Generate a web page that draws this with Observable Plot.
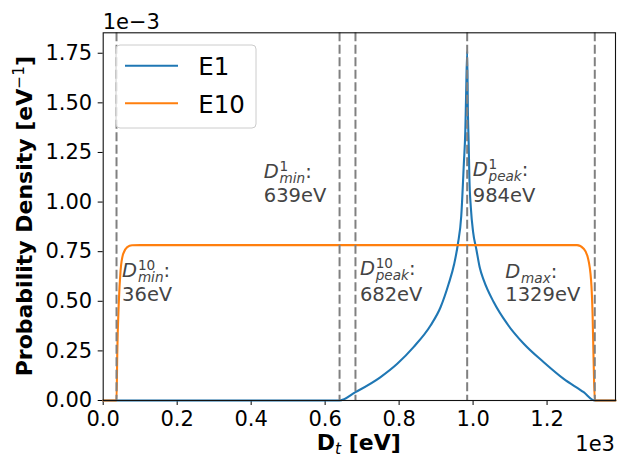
<!DOCTYPE html>
<html><head><meta charset="utf-8">
<script src="https://cdn.jsdelivr.net/npm/d3@7"></script>
<script src="https://cdn.jsdelivr.net/npm/@observablehq/plot@0.6"></script>
<style>html,body{margin:0;padding:0;background:#fff;} svg{display:block}</style>
</head><body>
<script>
// E1 distribution (x in eV, density in 1e-3 per eV)
const e1X = [0, 639, 682, 749, 795, 839, 885, 912, 934, 949, 959, 968, 975, 979, 981, 984, 986, 988, 990, 994, 1000, 1009, 1018, 1029, 1056, 1092, 1137, 1191, 1245, 1299, 1329, 1385];
const e1Y = [0, 0, 0.042, 0.117, 0.185, 0.269, 0.378, 0.470, 0.588, 0.689, 0.790, 0.93, 1.193, 1.36, 1.529, 1.760, 1.45, 1.30, 1.12, 0.97, 0.85, 0.76, 0.67, 0.605, 0.495, 0.387, 0.286, 0.193, 0.109, 0.042, 0, 0];
// E10 distribution
const e10X = [0, 36, 38, 42, 47, 54, 65, 78, 100, 400, 800, 1281, 1299, 1310, 1319, 1323, 1326, 1329, 1385];
const e10Y = [0, 0, 0.235, 0.487, 0.655, 0.739, 0.773, 0.782, 0.783, 0.783, 0.783, 0.783, 0.765, 0.722, 0.605, 0.437, 0.186, 0, 0];

const seriesNames = ["E1", "E10"];
const seriesColors = ["#1f77b4", "#ff7f0e"];

// marker lines and annotations
const markerValues = [36, 639, 682, 984, 1329];
const markerSup = ["10", "1", "10", "1", ""];
const markerSub = ["min", "min", "peak", "peak", "max"];
const labelX = [51, 434, 694, 999, 1087];
const labelY = [0.5, 1.0, 0.5, 1.0, 0.5];

const xTicks = [0, 200, 400, 600, 800, 1000, 1200];
const yTicks = [0, 0.25, 0.5, 0.75, 1.0, 1.25, 1.5, 1.75];
const xDomain = [0, 1385];
const yDomain = [0, 1.853];

const e1 = e1X.map((x, i) => ({x, y: e1Y[i]}));
const e10 = e10X.map((x, i) => ({x, y: e10Y[i]}));
const ann = markerValues.map((v, i) => ({v, sup: markerSup[i], sub: markerSub[i], x: labelX[i], y: labelY[i]}));

const annColor = "#444";
const annSize = 19.5;
const dyFor = a => a.sub === "peak" ? -26.5 : (a.sup ? -24.5 : -23);
const groups = d3.groups(ann, dyFor);

const W = 619, H = 458;
const mL = 102.7, mR = 4, mT = 32.3, mB = 58;

const svg = Plot.plot({
  width: W, height: H,
  marginLeft: mL, marginRight: mR, marginTop: mT, marginBottom: mB,
  style: {fontFamily: "DejaVu Sans", fontSize: "21px", background: "white", color: "black"},
  x: {domain: xDomain, ticks: xTicks, tickFormat: d => (d / 1000).toFixed(1), tickSize: 5, tickPadding: 6, label: null},
  y: {domain: yDomain, ticks: yTicks, tickFormat: d => d.toFixed(2), tickSize: 5, tickPadding: 6, label: null},
  marks: [
    Plot.line(e1, {x: "x", y: "y", stroke: seriesColors[0], strokeWidth: 2.1, curve: "monotone-x"}),
    Plot.line(e10, {x: "x", y: "y", stroke: seriesColors[1], strokeWidth: 2.1, curve: "monotone-x"}),
    Plot.ruleX(markerValues, {stroke: "#808080", strokeWidth: 2, strokeDasharray: "9,3.5"}),
    Plot.text(ann, {x: "x", y: "y", text: d => `${d.v}eV`, textAnchor: "start", lineAnchor: "bottom", fontSize: annSize, fill: annColor}),
    ...groups.map(([dy, items]) => Plot.text(items, {x: "x", y: "y", text: d => `D|${d.sup}|${d.sub}`, dy, textAnchor: "start", lineAnchor: "bottom", fontSize: annSize, fill: annColor})),
    Plot.frame({stroke: "#111", strokeWidth: 1.1})
  ]
});
document.body.appendChild(svg);

const s = d3.select(svg);
// tick label size: any text that is a plain tick number
s.selectAll("text").each(function() {
  if (/^\d\.\d+$/.test(this.textContent.trim())) {
    this.style.fontSize = "21px";
    this.setAttribute("font-size", "21");
    this.style.fontFamily = "DejaVu Sans";
  }
});

// rebuild math-like labels
s.selectAll("text").each(function() {
  const t = this.textContent;
  if (!t.includes("|")) return;
  const [, sup, sub] = t.split("|");
  const sel = d3.select(this);
  sel.text(null);
  sel.append("tspan").attr("font-style", "italic").text("D");
  if (sup) {
    const sp = sel.append("tspan").attr("dx", 0.8).attr("dy", -7).attr("font-size", 13.6).text(sup);
    const sw = sp.node().getComputedTextLength();
    sel.append("tspan").attr("dx", -sw).attr("dy", 12).attr("font-size", 13.6).attr("font-style", "italic").text(sub);
  } else {
    sel.append("tspan").attr("dx", 0.8).attr("dy", 5).attr("font-size", 13.6).attr("font-style", "italic").text(sub);
  }
  sel.append("tspan").attr("dy", -5).text(":");
});

const plotCx = mL + (W - mL - mR) / 2;
const plotCy = mT + (H - mT - mB) / 2;

// offset texts
s.append("text").attr("x", mL).attr("y", 29).attr("font-size", 21).attr("text-anchor", "start").attr("fill", "#000").text("1e\u22123");
s.append("text").attr("x", W - mR).attr("y", 451).attr("font-size", 21).attr("text-anchor", "end").attr("fill", "#000").text("1e3");

// x label
const xl = s.append("text").attr("x", plotCx).attr("y", 450).attr("text-anchor", "middle").attr("font-size", 22).attr("font-weight", "bold").attr("fill", "#000");
xl.append("tspan").text("D");
xl.append("tspan").attr("dy", 4).attr("font-size", 15.4).attr("font-weight", "normal").attr("font-style", "italic").text("t");
xl.append("tspan").attr("dy", -4).text(" [eV]");

// y label
const yl = s.append("text").attr("transform", `translate(32,${plotCy}) rotate(-90)`).attr("text-anchor", "middle").attr("font-size", 22).attr("font-weight", "bold").attr("fill", "#000");
yl.append("tspan").text("Probability Density [eV");
yl.append("tspan").attr("dy", -8).attr("font-size", 15.4).attr("font-weight", "normal").text("\u22121");
yl.append("tspan").attr("dy", 8).text("]");

// legend
const lg = s.append("g").attr("text-anchor", "start");
lg.append("rect").attr("x", 116).attr("y", 45).attr("width", 140).attr("height", 83).attr("rx", 4)
  .attr("fill", "white").attr("fill-opacity", 0.8).attr("stroke", "#cccccc").attr("stroke-width", 1);
seriesNames.forEach((name, i) => {
  const yy = 65.7 + i * 37.6;
  lg.append("line").attr("x1", 125).attr("x2", 178).attr("y1", yy).attr("y2", yy).attr("stroke", seriesColors[i]).attr("stroke-width", 2.1);
  lg.append("text").attr("x", 198.3).attr("y", yy + 9.3).attr("font-size", 24.5).attr("fill", "#000").text(name);
});
</script>
</body></html>
